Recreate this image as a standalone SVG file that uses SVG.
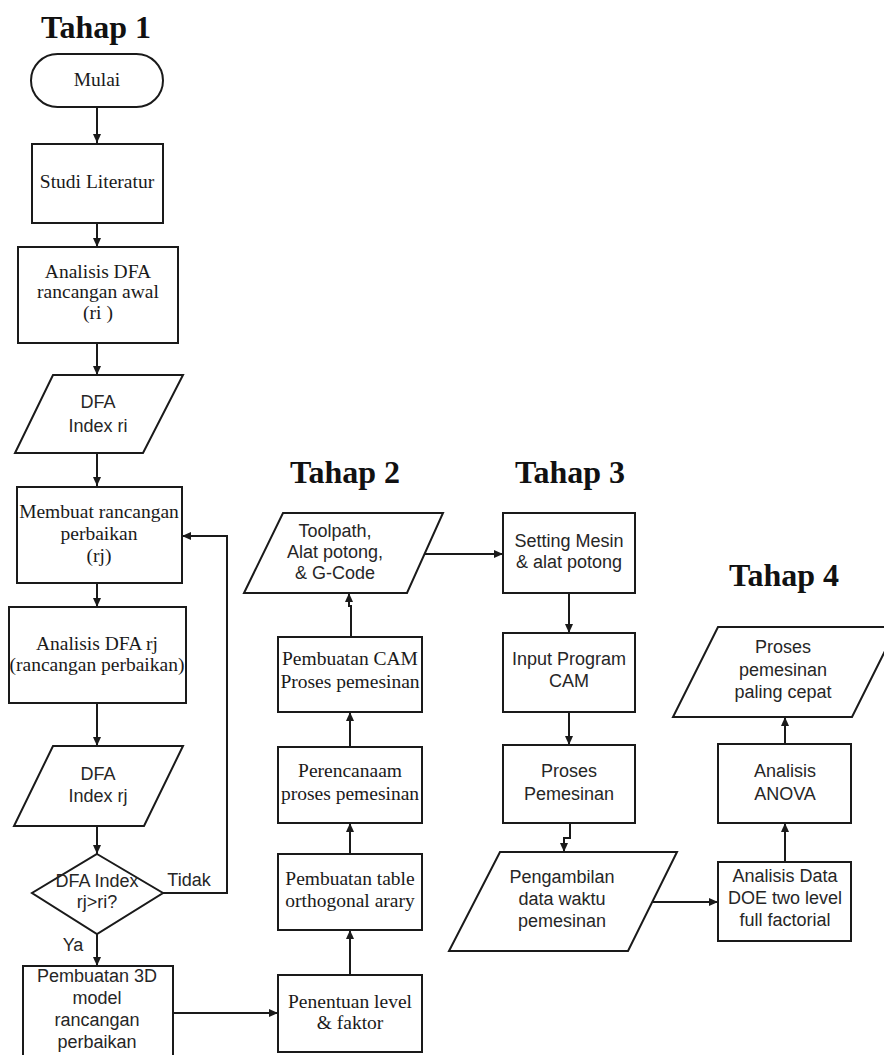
<svg xmlns="http://www.w3.org/2000/svg" width="884" height="1055" viewBox="0 0 884 1055">
<defs>
<marker id="ah" markerUnits="userSpaceOnUse" markerWidth="9" markerHeight="8" refX="9" refY="4" orient="auto">
<path d="M0,0 L9,4 L0,8 z" fill="#1a1a1a"/>
</marker>
<style>
.shape{fill:#fff;stroke:#1a1a1a;stroke-width:2}
.ln{fill:none;stroke:#1a1a1a;stroke-width:2;marker-end:url(#ah)}
.ser{font-family:"Liberation Serif","Times New Roman",serif;font-size:19.5px;fill:#1a1a1a;text-anchor:middle}
.san{font-family:"Liberation Sans",Arial,sans-serif;font-size:18px;fill:#262626;text-anchor:middle}
.ttl{font-family:"Liberation Serif","Times New Roman",serif;font-size:32px;font-weight:bold;fill:#111;text-anchor:middle}
</style>
</defs>
<rect width="884" height="1055" fill="#fff"/>
<text class="ttl" x="96" y="38">Tahap 1</text>
<text class="ttl" x="345" y="483">Tahap 2</text>
<text class="ttl" x="570" y="483">Tahap 3</text>
<text class="ttl" x="784" y="586">Tahap 4</text>

<g id="connectors">
<path class="ln" d="M97,108 V143"/>
<path class="ln" d="M97,223 V247"/>
<path class="ln" d="M97,343 V375"/>
<path class="ln" d="M97,453 V486"/>
<path class="ln" d="M97,583 V607"/>
<path class="ln" d="M97,703 V746"/>
<path class="ln" d="M97,826 V854"/>
<path class="ln" d="M97,934 V966"/>
<path class="ln" d="M163,893 H227 V536 H182"/>
<path class="ln" d="M173,1013 H278"/>
<path class="ln" d="M350,975 V930"/>
<path class="ln" d="M350,854 V823"/>
<path class="ln" d="M350,747 V712"/>
<path class="ln" d="M351,637 V606 H349 V593"/>
<path class="ln" d="M425,554 H503"/>
<path class="ln" d="M569,593 V633"/>
<path class="ln" d="M569,712 V745"/>
<path class="ln" d="M570,823 V838 H564 V852"/>
<path class="ln" d="M653,902 H718"/>
<path class="ln" d="M785,862 V823"/>
<path class="ln" d="M785,744 V717"/>
<text class="san" x="189" y="886">Tidak</text>
<text class="san" x="73" y="951">Ya</text>
</g>

<g id="mulai">
<rect class="shape" x="31" y="54" width="132" height="53" rx="26.5"/>
<text class="ser" x="97" y="86">Mulai</text>
</g>
<g id="studi">
<rect class="shape" x="32" y="144" width="131" height="79"/>
<text class="ser" x="97" y="188">Studi Literatur</text>
</g>
<g id="analisis-ri">
<rect class="shape" x="18" y="247" width="160" height="96"/>
<text class="ser" x="98" y="278">Analisis DFA</text>
<text class="ser" x="98" y="298">rancangan awal</text>
<text class="ser" x="98" y="319">(ri )</text>
</g>
<g id="dfa-ri">
<polygon class="shape" points="53,375 183,375 143,453 15,453"/>
<text class="san" x="98" y="408">DFA</text>
<text class="san" x="98" y="432">Index ri</text>
</g>
<g id="membuat">
<rect class="shape" x="17" y="487" width="165" height="96"/>
<text class="ser" x="99" y="518">Membuat rancangan</text>
<text class="ser" x="99" y="540">perbaikan</text>
<text class="ser" x="99" y="562">(rj)</text>
</g>
<g id="analisis-rj">
<rect class="shape" x="9" y="607" width="177" height="96"/>
<text class="ser" x="97" y="650">Analisis DFA rj</text>
<text class="ser" x="97" y="671">(rancangan perbaikan)</text>
</g>
<g id="dfa-rj">
<polygon class="shape" points="53,746 183,746 144,826 14,826"/>
<text class="san" x="98" y="780">DFA</text>
<text class="san" x="98" y="802">Index rj</text>
</g>
<g id="decision">
<polygon class="shape" points="97,854 163,893 97,934 32,893"/>
<text class="san" x="97" y="887">DFA Index</text>
<text class="san" x="97" y="908">rj&gt;ri?</text>
</g>
<g id="model3d">
<rect class="shape" x="23" y="966" width="150" height="95"/>
<text class="san" x="97" y="982">Pembuatan 3D</text>
<text class="san" x="97" y="1004">model</text>
<text class="san" x="97" y="1026">rancangan</text>
<text class="san" x="97" y="1048">perbaikan</text>
</g>

<g id="penentuan">
<rect class="shape" x="278" y="975" width="144" height="77"/>
<text class="ser" x="350" y="1008">Penentuan level</text>
<text class="ser" x="350" y="1029">&amp; faktor</text>
</g>
<g id="table">
<rect class="shape" x="278" y="854" width="144" height="76"/>
<text class="ser" x="350" y="885">Pembuatan table</text>
<text class="ser" x="350" y="907">orthogonal arary</text>
</g>
<g id="perencanaan">
<rect class="shape" x="278" y="747" width="144" height="76"/>
<text class="ser" x="350" y="777">Perencanaam</text>
<text class="ser" x="350" y="800">proses pemesinan</text>
</g>
<g id="cam">
<rect class="shape" x="278" y="637" width="144" height="75"/>
<text class="ser" x="350" y="665">Pembuatan CAM</text>
<text class="ser" x="350" y="688">Proses pemesinan</text>
</g>
<g id="toolpath">
<polygon class="shape" points="283,513 443,513 407,593 244,593"/>
<text class="san" x="335" y="537">Toolpath,</text>
<text class="san" x="335" y="558">Alat potong,</text>
<text class="san" x="335" y="579">&amp; G-Code</text>
</g>

<g id="setting">
<rect class="shape" x="503" y="513" width="132" height="80"/>
<text class="san" x="569" y="547">Setting Mesin</text>
<text class="san" x="569" y="568">&amp; alat potong</text>
</g>
<g id="input">
<rect class="shape" x="503" y="633" width="132" height="79"/>
<text class="san" x="569" y="665">Input Program</text>
<text class="san" x="569" y="687">CAM</text>
</g>
<g id="proses">
<rect class="shape" x="503" y="745" width="132" height="78"/>
<text class="san" x="569" y="777">Proses</text>
<text class="san" x="569" y="800">Pemesinan</text>
</g>
<g id="pengambilan">
<polygon class="shape" points="500,852 677,852 628,951 449,951"/>
<text class="san" x="562" y="883">Pengambilan</text>
<text class="san" x="562" y="905">data waktu</text>
<text class="san" x="562" y="927">pemesinan</text>
</g>

<g id="analisis-data">
<rect class="shape" x="718" y="862" width="133" height="79"/>
<text class="san" x="785" y="882">Analisis Data</text>
<text class="san" x="785" y="904">DOE two level</text>
<text class="san" x="785" y="926">full factorial</text>
</g>
<g id="anova">
<rect class="shape" x="718" y="744" width="133" height="79"/>
<text class="san" x="785" y="777">Analisis</text>
<text class="san" x="785" y="800">ANOVA</text>
</g>
<g id="proses-cepat">
<polygon class="shape" points="718,627 897,627 852,717 673,717"/>
<text class="san" x="783" y="653">Proses</text>
<text class="san" x="783" y="676">pemesinan</text>
<text class="san" x="783" y="698">paling cepat</text>
</g>
</svg>
